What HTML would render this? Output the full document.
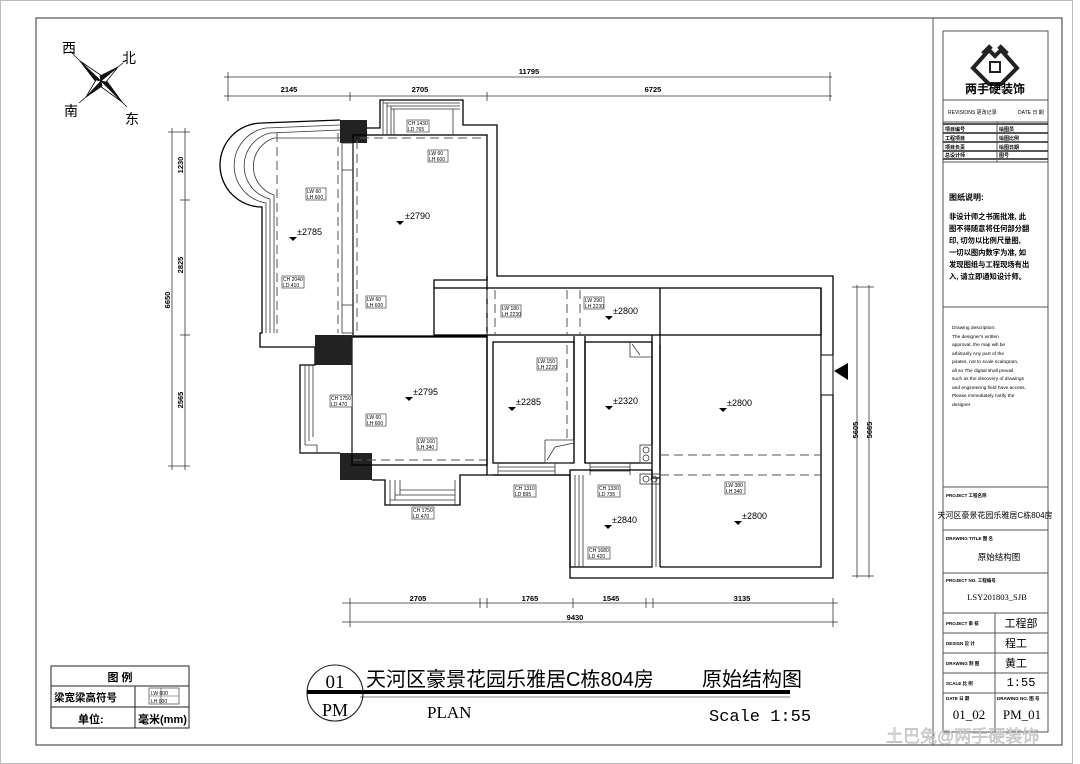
<!DOCTYPE html>
<html><head><meta charset="utf-8"><style>
html,body{margin:0;padding:0;background:#fff}
svg{display:block}
text{font-family:"Liberation Sans","Noto Sans CJK SC",sans-serif;fill:#000}
.s{font-family:"Liberation Serif","Noto Serif CJK SC",serif}
.m{font-family:"Liberation Mono","Noto Sans CJK SC",monospace}
.w{fill:none;stroke:#000;stroke-width:1.3}
.t{fill:none;stroke:#333;stroke-width:.8}
.d{fill:none;stroke:#555;stroke-width:1;stroke-dasharray:9 5}
.tag rect{fill:#fff;stroke:#444;stroke-width:.7}
.tag text{font-size:5px}
.el{font-size:9px}
.dim{font-size:7.5px;font-weight:bold}
</style></head><body>
<svg width="1080" height="764" viewBox="0 0 1080 764" xmlns="http://www.w3.org/2000/svg">
<!-- frame -->
<rect x="0.5" y="0.5" width="1072" height="763" fill="none" stroke="#bbb"/>
<rect x="36" y="18" width="1026" height="727" fill="none" stroke="#555" stroke-width="1.2"/>
<line x1="933" y1="18" x2="933" y2="745" stroke="#555"/>
<rect x="943" y="31" width="105" height="701" fill="none" stroke="#555"/>

<!-- compass -->
<g transform="translate(101,81)" stroke="#111" stroke-width=".8" stroke-linejoin="round">
<polygon points="0,0 -21,-20 -5,1" fill="#111"/>
<polygon points="0,0 -21,-20 1,-5" fill="#fff"/>
<polygon points="0,0 21,21 5,-1" fill="#111"/>
<polygon points="0,0 21,21 -1,5" fill="#fff"/>
<polygon points="0,0 17,-14 -1,-5" fill="#111"/>
<polygon points="0,0 17,-14 5,1" fill="#fff"/>
<polygon points="0,0 -15,16 1,5" fill="#111"/>
<polygon points="0,0 -15,16 -5,-1" fill="#fff"/>
<line x1="-21" y1="-20" x2="-31" y2="-30"/>
<line x1="17" y1="-14" x2="22" y2="-18"/>
<line x1="-15" y1="16" x2="-22" y2="22"/>
<line x1="21" y1="21" x2="26" y2="26"/>
</g>
<text x="62" y="53" font-size="14">西</text>
<text x="122" y="63" font-size="14">北</text>
<text x="64" y="116" font-size="14">南</text>
<text x="125" y="124" font-size="14">东</text>

<!-- top dims -->
<g stroke="#333" stroke-width=".8">
<line x1="224" y1="77" x2="832" y2="77"/><line x1="224" y1="96" x2="832" y2="96"/>
<line x1="228" y1="72" x2="228" y2="101"/><line x1="830" y1="72" x2="830" y2="101"/>
<line x1="350" y1="92" x2="350" y2="101"/><line x1="487" y1="92" x2="487" y2="101"/>
<line x1="172" y1="128" x2="172" y2="470"/><line x1="185" y1="128" x2="185" y2="470"/>
<line x1="168" y1="132" x2="190" y2="132"/><line x1="168" y1="466" x2="190" y2="466"/>
<line x1="180" y1="200" x2="190" y2="200"/><line x1="180" y1="335" x2="190" y2="335"/>
<line x1="857" y1="285" x2="857" y2="578"/><line x1="869" y1="285" x2="869" y2="578"/>
<line x1="852" y1="287" x2="874" y2="287"/><line x1="852" y1="576" x2="874" y2="576"/>
<line x1="342" y1="603" x2="838" y2="603"/><line x1="342" y1="622" x2="838" y2="622"/>
<line x1="350" y1="598" x2="350" y2="627"/><line x1="833" y1="598" x2="833" y2="627"/>
<line x1="480" y1="598" x2="480" y2="608"/><line x1="487" y1="598" x2="487" y2="608"/>
<line x1="573" y1="598" x2="573" y2="608"/><line x1="646" y1="598" x2="646" y2="608"/><line x1="653" y1="598" x2="653" y2="608"/>
</g>
<text class="dim" x="529" y="74" text-anchor="middle">11795</text>
<text class="dim" x="289" y="92" text-anchor="middle">2145</text>
<text class="dim" x="420" y="92" text-anchor="middle">2705</text>
<text class="dim" x="653" y="92" text-anchor="middle">6725</text>
<text class="dim" transform="translate(170,300) rotate(-90)" text-anchor="middle">6650</text>
<text class="dim" transform="translate(183,165) rotate(-90)" text-anchor="middle">1230</text>
<text class="dim" transform="translate(183,265) rotate(-90)" text-anchor="middle">2825</text>
<text class="dim" transform="translate(183,400) rotate(-90)" text-anchor="middle">2565</text>
<text class="dim" transform="translate(858,430) rotate(-90)" text-anchor="middle">5605</text>
<text class="dim" transform="translate(872,430) rotate(-90)" text-anchor="middle">5665</text>
<text class="dim" x="418" y="601" text-anchor="middle">2705</text>
<text class="dim" x="530" y="601" text-anchor="middle">1765</text>
<text class="dim" x="611" y="601" text-anchor="middle">1545</text>
<text class="dim" x="742" y="601" text-anchor="middle">3135</text>
<text class="dim" x="575" y="620" text-anchor="middle">9430</text>

<!-- building outline -->
<path class="w" d="M367,128 H380 V100 H463 V125 H497 V276 H833 V355 M833,395 V578 H570 V475 H460 V505 H385 V480 H372"/>
<path class="w" d="M340,453 H300 V365 H315 V347 H260 V333 H262 V207 A42,42 0 0 1 262,123 L340,120"/>
<path class="t" d="M266,203 A38,38 0 0 1 266,128 L340,125 M270,199 A34,34 0 0 1 270,133 L340,130 M274,195 A30,30 0 0 1 274,138 H340"/>
<path class="t" d="M266,203 V333 M270,199 V333 M274,195 V333"/>
<rect x="340" y="120" width="27" height="23" fill="#222"/>
<rect x="315" y="335" width="37" height="30" fill="#222"/>
<rect x="340" y="453" width="32" height="27" fill="#222"/>
<rect class="w" x="353" y="135" width="134" height="201"/>
<rect class="t" x="342" y="143" width="11" height="190"/>
<line class="t" x1="342" y1="170" x2="353" y2="170"/><line class="t" x1="342" y1="305" x2="353" y2="305"/>
<path class="t" d="M383,100 V135 M387,103 V135 M391,106 V135 M394,109 V135 M383,103 H460 M387,106 H460 M391,109 H460 M453,109 V135"/>
<path class="d" d="M360,138 H487 M357,140 V333 M338,133 V333 M277,133 V333"/>
<rect class="w" x="352" y="337" width="135" height="128"/>
<path class="t" d="M305,365 V445 M309,365 V441 M313,365 V437 M305,445 H317 V453 M300,453 V449 M352,337 V453"/>
<path class="d" d="M353,460 H487"/>
<path class="t" d="M390,480 V505 M395,480 V500 M400,480 V495 M390,500 H455 M395,495 H455 M400,490 H455 M455,480 V505"/>
<rect class="w" x="434" y="288" width="387" height="47"/>
<path class="w" d="M434,288 V280 H487 V276"/>
<path class="d" d="M487,290 V335 M495,290 V335 M567,290 V335 M580,290 V335"/>
<rect class="w" x="493" y="342" width="81" height="121"/>
<path class="w" d="M487,336 V475 M493,475 H570 M574,336 V463 M585,336 V463"/>
<path class="t" d="M498,463 V475 M555,463 V475 M498,467 H555 M498,471 H555"/>
<path class="d" d="M567,345 V440"/>
<path class="t" d="M545,440 H574 V463 M545,440 V463 H570 M547,460 L555,447 L574,443"/>
<rect class="w" x="585" y="342" width="67" height="121"/>
<path class="w" d="M652,335 V478 M660,345 V470 M652,478 H660"/>
<path class="t" d="M630,342 V357 H652 M632,344 L640,355"/>
<rect class="t" x="640" y="445" width="12" height="18"/>
<circle class="t" cx="646" cy="450" r="3"/><circle class="t" cx="646" cy="458" r="3"/>
<rect class="t" x="640" y="474" width="20" height="10"/>
<circle class="t" cx="646" cy="479" r="3"/><circle class="t" cx="654" cy="479" r="3"/>
<path class="t" d="M590,463 V475 M630,463 V475 M590,467 H630 M590,471 H630"/>
<rect class="w" x="570" y="470" width="82" height="97"/>
<path class="t" d="M575,475 V567 M579,475 V567 M583,475 V567 M652,478 V567 M656,478 V567"/>
<path class="w" d="M660,288 V567 M660,567 H821 V288"/>
<rect x="821" y="355" width="12" height="40" fill="#fff" stroke="#000" stroke-width="1"/>
<polygon points="834,371 848,363 848,380" fill="#000"/>
<path class="d" d="M660,455 H821 M660,475 H821"/>

<g class="el">
<text x="405" y="219">±2790</text><path d="M396,221 h8 l-4,4z" />
<text x="297" y="235">±2785</text><path d="M289,237 h8 l-4,4z"/>
<text x="413" y="395">±2795</text><path d="M405,397 h8 l-4,4z"/>
<text x="516" y="405">±2285</text><path d="M508,407 h8 l-4,4z"/>
<text x="613" y="404">±2320</text><path d="M605,406 h8 l-4,4z"/>
<text x="727" y="406">±2800</text><path d="M719,408 h8 l-4,4z"/>
<text x="613" y="314">±2800</text><path d="M605,316 h8 l-4,4z"/>
<text x="612" y="523">±2840</text><path d="M604,525 h8 l-4,4z"/>
<text x="742" y="519">±2800</text><path d="M734,521 h8 l-4,4z"/>
</g>

<g class="tag">
<g transform="translate(407,120)"><rect width="22" height="12"/><text x="1" y="5">CH 1430</text><text x="1" y="11">LD  765</text></g>
<g transform="translate(428,150)"><rect width="20" height="12"/><text x="1" y="5">LW  60</text><text x="1" y="11">LH 600</text></g>
<g transform="translate(306,188)"><rect width="20" height="12"/><text x="1" y="5">LW  60</text><text x="1" y="11">LH 600</text></g>
<g transform="translate(282,276)"><rect width="22" height="12"/><text x="1" y="5">CH 2040</text><text x="1" y="11">LD  410</text></g>
<g transform="translate(366,296)"><rect width="20" height="12"/><text x="1" y="5">LW  60</text><text x="1" y="11">LH 600</text></g>
<g transform="translate(330,395)"><rect width="22" height="12"/><text x="1" y="5">CH 1750</text><text x="1" y="11">LD  470</text></g>
<g transform="translate(366,414)"><rect width="20" height="12"/><text x="1" y="5">LW  60</text><text x="1" y="11">LH 600</text></g>
<g transform="translate(417,438)"><rect width="20" height="12"/><text x="1" y="5">LW 160</text><text x="1" y="11">LH 340</text></g>
<g transform="translate(412,507)"><rect width="22" height="12"/><text x="1" y="5">CH 1750</text><text x="1" y="11">LD  470</text></g>
<g transform="translate(501,305)"><rect width="20" height="12"/><text x="1" y="5">LW 180</text><text x="1" y="11">LH 2230</text></g>
<g transform="translate(584,297)"><rect width="20" height="12"/><text x="1" y="5">LW 290</text><text x="1" y="11">LH 2230</text></g>
<g transform="translate(537,358)"><rect width="20" height="12"/><text x="1" y="5">LW 150</text><text x="1" y="11">LH 2220</text></g>
<g transform="translate(514,485)"><rect width="22" height="12"/><text x="1" y="5">CH 1310</text><text x="1" y="11">LD  895</text></g>
<g transform="translate(598,485)"><rect width="22" height="12"/><text x="1" y="5">CH 1330</text><text x="1" y="11">LD  735</text></g>
<g transform="translate(725,482)"><rect width="20" height="12"/><text x="1" y="5">LW 380</text><text x="1" y="11">LH 340</text></g>
<g transform="translate(588,547)"><rect width="22" height="12"/><text x="1" y="5">CH 1680</text><text x="1" y="11">LD  420</text></g>
</g>

<rect x="51" y="666" width="138" height="62" fill="none" stroke="#222"/>
<line x1="51" y1="686" x2="189" y2="686" stroke="#222"/><line x1="51" y1="707" x2="189" y2="707" stroke="#222"/>
<line x1="135" y1="686" x2="135" y2="728" stroke="#222"/>
<text x="120" y="681" font-size="11" font-weight="bold" text-anchor="middle">图 例</text>
<text x="54" y="701" font-size="10.5" font-weight="bold">梁宽梁高符号</text>
<text x="78" y="723" font-size="11" font-weight="bold">单位:</text>
<text x="138" y="723" font-size="11" font-weight="bold">毫米(mm)</text>
<g class="tag"><g transform="translate(149,688)"><rect width="30" height="16"/><line x1="0" y1="8" x2="30" y2="8" stroke="#444" stroke-width=".6"/><line x1="12" y1="0" x2="12" y2="16" stroke="#444" stroke-width=".6"/><text x="2" y="7" font-size="6.5">LW  000</text><text x="2" y="15" font-size="6.5">LH  000</text></g></g>

<circle cx="335" cy="693" r="28" fill="none" stroke="#222" stroke-width="1.1"/>
<rect x="307" y="690" width="483" height="4" fill="#000"/>
<line x1="360" y1="697" x2="790" y2="697" stroke="#000" stroke-width=".6"/>
<text class="s" x="335" y="688" font-size="19" text-anchor="middle">01</text>
<text class="s" x="335" y="716" font-size="18" text-anchor="middle">PM</text>
<text x="366" y="686" font-size="20" font-family="'Noto Serif CJK SC',serif">天河区豪景花园乐雅居C栋804房</text>
<text x="702" y="686" font-size="20" font-family="'Noto Serif CJK SC',serif">原始结构图</text>
<text class="s" x="427" y="718" font-size="17">PLAN</text>
<text class="m" x="709" y="721" font-size="17">Scale 1:55</text>

<g transform="translate(995,68)">
<path d="M-22,0 L-6,-18 L0,-12 L6,-18 L22,0 L6,16 H-6 Z" fill="none" stroke="#222" stroke-width="4"/>
<rect x="-5" y="-6" width="10" height="10" fill="#fff" stroke="#222" stroke-width="2"/>
<path d="M-12,-14 l8,-8 M12,-14 l-8,-8" stroke="#222" stroke-width="5"/>
</g>
<text x="995" y="93" font-size="12" font-weight="bold" text-anchor="middle">两手硬装饰</text>
<line x1="943" y1="100" x2="1048" y2="100" stroke="#555"/>
<text x="948" y="114" font-size="5">REVISIONS  更改记录</text><text x="1018" y="114" font-size="5">DATE  日 期</text>
<line x1="943" y1="122" x2="1048" y2="122" stroke="#555"/>
<g stroke="#222" stroke-width="1.6"><line x1="943" y1="124" x2="1048" y2="124"/><line x1="943" y1="133" x2="1048" y2="133"/><line x1="943" y1="142" x2="1048" y2="142"/><line x1="943" y1="151" x2="1048" y2="151"/><line x1="943" y1="159" x2="1048" y2="159"/></g>
<line x1="997" y1="122" x2="997" y2="162" stroke="#555"/>
<line x1="943" y1="162" x2="1048" y2="162" stroke="#555"/>
<g font-size="5" font-weight="bold"><text x="945" y="131">项目编号</text><text x="999" y="131">绘图员</text><text x="945" y="140">工程项目</text><text x="999" y="140">绘图比例</text><text x="945" y="149">项目负责</text><text x="999" y="149">绘图日期</text><text x="945" y="157">总设计师</text><text x="999" y="157">图号</text></g>
<text x="949" y="200" font-size="8" font-weight="bold">图纸说明:</text>
<g font-size="7.3" font-weight="bold"><text x="949" y="219">非设计师之书面批准, 此</text><text x="949" y="231">图不得随意将任何部分翻</text><text x="949" y="243">印, 切勿以比例尺量图,</text><text x="949" y="255">一切以图内数字为准, 如</text><text x="949" y="267">发现图纸与工程现场有出</text><text x="949" y="279">入, 请立即通知设计师。</text></g>
<line x1="943" y1="307" x2="1048" y2="307" stroke="#555"/>
<g class="m" font-size="4.8"><text x="952" y="329">Drawing description:</text><text x="952" y="338">    The designer's written</text><text x="952" y="346">approval, the map will be</text><text x="952" y="355">arbitrarily Any part of the</text><text x="952" y="363">pirates, not to scale scalogram,</text><text x="952" y="372">all so The digital shall prevail,</text><text x="952" y="380">such as the discovery of drawings</text><text x="952" y="389">and engineering field have access.</text><text x="952" y="397">Please immediately notify the</text><text x="952" y="406">designer</text></g>
<g stroke="#555"><line x1="943" y1="487" x2="1048" y2="487"/><line x1="943" y1="530" x2="1048" y2="530"/><line x1="943" y1="573" x2="1048" y2="573"/><line x1="943" y1="613" x2="1048" y2="613"/><line x1="943" y1="633" x2="1048" y2="633"/><line x1="943" y1="653" x2="1048" y2="653"/><line x1="943" y1="673" x2="1048" y2="673"/><line x1="943" y1="693" x2="1048" y2="693"/><line x1="995" y1="613" x2="995" y2="732"/></g>
<g font-size="4.5" font-weight="bold"><text x="946" y="497">PROJECT    工程名称</text><text x="946" y="540">DRAWING TITLE 图 名</text><text x="946" y="582">PROJECT NO. 工程编号</text><text x="946" y="625">PROJECT 审 核</text><text x="946" y="645">DESIGN 设 计</text><text x="946" y="665">DRAWING 制 图</text><text x="946" y="685">SCALE 比 例</text><text x="946" y="700">DATE 日 期</text><text x="997" y="700">DRAWING NO. 图 号</text></g>
<text x="995" y="518" font-size="8" text-anchor="middle">天河区豪景花园乐雅居C栋804房</text>
<text x="999" y="560" font-size="8.5" text-anchor="middle">原始结构图</text>
<text class="s" x="997" y="600" font-size="8.5" text-anchor="middle">LSY201803_SJB</text>
<g font-size="11"><text x="1021" y="627" text-anchor="middle">工程部</text><text x="1016" y="647" text-anchor="middle">程工</text><text x="1016" y="667" text-anchor="middle">黄工</text></g>
<text class="m" x="1021" y="686" font-size="12" text-anchor="middle">1:55</text>
<text class="s" x="969" y="719" font-size="13" text-anchor="middle">01_02</text>
<text class="s" x="1022" y="719" font-size="13" text-anchor="middle">PM_01</text>

<text x="886" y="742" font-size="17" style="fill:#ddd;stroke:#aaa;stroke-width:.4">土巴兔@两手硬装饰</text>
</svg>
</body></html>
